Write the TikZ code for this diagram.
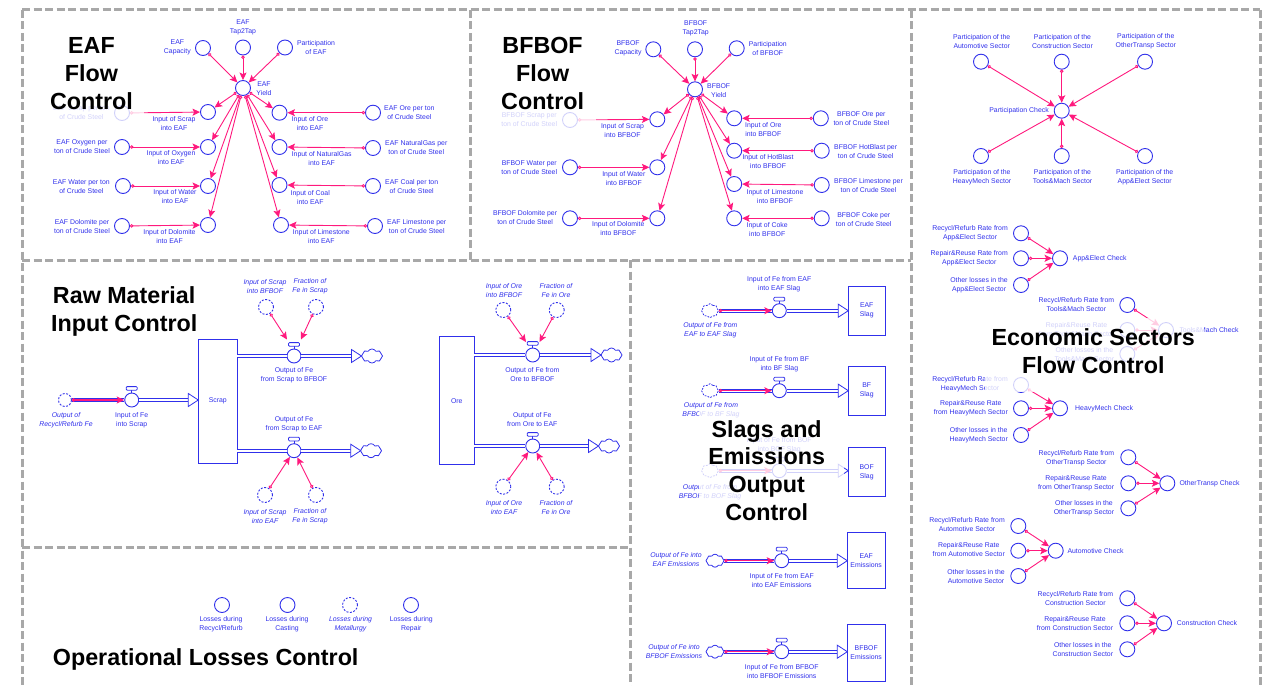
\documentclass[tikz,border=0pt]{standalone}
\usepackage{fontspec}
\setmainfont{Liberation Sans}
\usetikzlibrary{arrows.meta,shapes.symbols,shapes.geometric}
\definecolor{sdblue}{RGB}{48,48,235}
\definecolor{sdpink}{RGB}{255,25,125}
\definecolor{panelgray}{RGB}{168,168,168}
\newcommand{\sdsmall}{\fontsize{6.9}{9}\selectfont}
\newcommand{\sdtitle}{\fontsize{23.3}{27.7}\selectfont\bfseries}
\tikzset{
  aux/.style={circle, draw=sdblue, line width=0.9pt, minimum size=15pt, inner sep=0pt, fill=white},
  daux/.style={aux, dash pattern=on 2pt off 1.5pt},
  lbl/.style={text=sdblue, font=\sdsmall, align=center, inner sep=0pt},
  ilbl/.style={text=sdblue, font=\sdsmall\itshape, align=center, inner sep=0pt},
  info/.style={draw=sdpink, line width=0.9pt, {Circle[fill=white,length=3.4pt]}-{Stealth[length=7.5pt,width=7pt,inset=1.6pt]}},
  pipe/.style={draw=sdblue, double=white, double distance=2.4pt, line width=0.75pt},
  stockbox/.style={draw=sdblue, line width=0.9pt, fill=white, rectangle, inner sep=0pt, text=sdblue, font=\sdsmall, align=center},
  valve/.style={circle, draw=sdblue, line width=0.9pt, fill=white, minimum size=14pt, inner sep=0pt},
  sink/.style={cloud, cloud puffs=8, cloud puff arc=120, cloud ignores aspect, draw=sdblue, line width=0.8pt, fill=white, minimum width=21pt, minimum height=14pt, inner sep=0pt},
  gsink/.style={sink, dash pattern=on 1.8pt off 1.3pt, minimum width=17pt, minimum height=14pt},
  panel/.style={draw=panelgray, line width=3pt, dash pattern=on 8pt off 3.5pt},
  titletext/.style={font=\sdtitle, align=center, inner sep=0pt, text=black},
  haze/.style={fill=white, fill opacity=0.78},
  valvehandle/.pic={
    \draw[sdblue, line width=0.8pt] (0,-7) -- (0,-9.8);
    \draw[sdblue, line width=0.8pt, fill=white, rounded corners=1pt] (-5.5,-13.4) rectangle (5.5,-9.8);
  },
  flowhead/.pic={
    \draw[sdblue, line width=0.8pt, fill=white, line join=miter] (0,0) -- (-10,-6.5) -- (-10,6.5) -- cycle;
  },
}
\begin{document}
\begin{tikzpicture}[x=1pt,y=-1pt]
\useasboundingbox (0,0) rectangle (1273,685);

% ---------------- panels
\draw[panel] (22,10) -- (1260,10);
\draw[panel] (22,10) -- (22,690);
\draw[panel] (1260,10) -- (1260,690);
\draw[panel] (470,10) -- (470,260);
\draw[panel] (911,10) -- (911,690);
\draw[panel] (22,260) -- (911,260);
\draw[panel] (630,260) -- (630,690);
\draw[panel] (22,547) -- (630,547);

% ---------------- EAF flow control
\node[aux] (eafcap) at (203,48) {};
\node[lbl, anchor=east] (eafcapL) at (191,47.5) {EAF\\Capacity};
\node[aux] (eaftap) at (243,47.5) {};
\node[lbl] (eaftapL) at (243,27) {EAF\\Tap2Tap};
\node[aux] (eafpart) at (285,47.5) {};
\node[lbl] (eafpartL) at (316,47.5) {Participation\\of EAF};
\node[aux] (eafyield) at (243,88) {};
\node[lbl] (eafyieldL) at (264,89) {EAF\\Yield};

\node[aux] (eafinscrap) at (208,112) {};
\node[lbl] (eafinscrapL) at (174,123.5) {Input of Scrap\\into EAF};
\node[aux] (eafinoxy) at (208,147) {};
\node[lbl] (eafinoxyL) at (171,157.8) {Input of Oxygen\\into EAF};
\node[aux] (eafinwater) at (208,186) {};
\node[lbl] (eafinwaterL) at (175,197) {Input of Water\\into EAF};
\node[aux] (eafindolo) at (208,225) {};
\node[lbl] (eafindoloL) at (169.5,237) {Input of Dolomite\\into EAF};

\node[aux] (eafscrap) at (122,113) {};
\node[lbl, anchor=east] (eafscrapL) at (110,112.8) {EAF Scrap per ton\\of Crude Steel};
\node[aux] (eafoxy) at (122,147) {};
\node[lbl, anchor=east] (eafoxyL) at (110,146.7) {EAF Oxygen per\\ton of Crude Steel};
\node[aux] (eafwater) at (123,186) {};
\node[lbl, anchor=east] (eafwaterL) at (110,186.3) {EAF Water per ton\\of Crude Steel};
\node[aux] (eafdolo) at (122,226) {};
\node[lbl, anchor=east] (eafdoloL) at (110,226.3) {EAF Dolomite per\\ton of Crude Steel};

\node[aux] (eafinore) at (279.5,112.7) {};
\node[lbl] (eafinoreL) at (310,123.5) {Input of Ore\\into EAF};
\node[aux] (eafingas) at (279.5,147) {};
\node[lbl] (eafingasL) at (321.7,159) {Input of NaturalGas\\into EAF};
\node[aux] (eafincoal) at (279.5,185) {};
\node[lbl] (eafincoalL) at (310.3,197.2) {Input of Coal\\into EAF};
\node[aux] (eafinlime) at (281,225) {};
\node[lbl] (eafinlimeL) at (321.3,236.8) {Input of Limestone\\into EAF};

\node[aux] (eafore) at (373,112.7) {};
\node[lbl, anchor=west] (eaforeL) at (384,112.8) {EAF Ore per ton\\of Crude Steel};
\node[aux] (eafgas) at (373,148) {};
\node[lbl, anchor=west] (eafgasL) at (385,147.5) {EAF NaturalGas per\\ton of Crude Steel};
\node[aux] (eafcoal) at (373,186) {};
\node[lbl, anchor=west] (eafcoalL) at (385,186.2) {EAF Coal per ton\\of Crude Steel};
\node[aux] (eaflime) at (375,226) {};
\node[lbl, anchor=west] (eaflimeL) at (387,226.5) {EAF Limestone per\\ton of Crude Steel};

\draw[info] (eafcap) -- (eafyield);
\draw[info] (eaftap) -- (eafyield);
\draw[info] (eafpart) -- (eafyield);
\foreach \t in {eafinscrap,eafinoxy,eafinwater,eafindolo,eafinore,eafingas,eafincoal,eafinlime}
  \draw[info] (eafyield) -- (\t);
\draw[info] (eafscrap) -- (eafinscrap);
\draw[info] (eafoxy) -- (eafinoxy);
\draw[info] (eafwater) -- (eafinwater);
\draw[info] (eafdolo) -- (eafindolo);
\draw[info] (eafore) -- (eafinore);
\draw[info] (eafgas) -- (eafingas);
\draw[info] (eafcoal) -- (eafincoal);
\draw[info] (eaflime) -- (eafinlime);

% ---------------- BFBOF flow control
\node[aux] (bcap) at (653.3,49.3) {};
\node[lbl, anchor=east] (bcapL) at (641.7,48.3) {BFBOF\\Capacity};
\node[aux] (btap) at (695,49.3) {};
\node[lbl] (btapL) at (695.7,28.7) {BFBOF\\Tap2Tap};
\node[aux] (bpart) at (736.7,48.3) {};
\node[lbl] (bpartL) at (767.8,48.7) {Participation\\of BFBOF};
\node[aux] (byield) at (695,89.3) {};
\node[lbl] (byieldL) at (718.7,90.5) {BFBOF\\Yield};

\node[aux] (binscrap) at (657.3,119.3) {};
\node[lbl] (binscrapL) at (622.5,130.7) {Input of Scrap\\into BFBOF};
\node[aux] (binwater) at (657.3,167.3) {};
\node[lbl] (binwaterL) at (623.8,178.7) {Input of Water\\into BFBOF};
\node[aux] (bindolo) at (657.3,218.3) {};
\node[lbl] (bindoloL) at (618.3,228.8) {Input of Dolomite\\into BFBOF};

\node[aux] (bscrap) at (570,120) {};
\node[lbl, anchor=east] (bscrapL) at (557.3,119.7) {BFBOF Scrap per\\ton of Crude Steel};
\node[aux] (bwater) at (570,167.3) {};
\node[lbl, anchor=east] (bwaterL) at (557.3,168) {BFBOF Water per\\ton of Crude Steel};
\node[aux] (bdolo) at (570,218.3) {};
\node[lbl, anchor=east] (bdoloL) at (557.3,217.8) {BFBOF Dolomite per\\ton of Crude Steel};

\node[aux] (binore) at (734.2,118.3) {};
\node[lbl] (binoreL) at (763.3,129.7) {Input of Ore\\into BFBOF};
\node[aux] (binhot) at (734.2,150.7) {};
\node[lbl] (binhotL) at (768,161.2) {Input of HotBlast\\into BFBOF};
\node[aux] (binlime) at (734.2,184) {};
\node[lbl] (binlimeL) at (775,196.2) {Input of Limestone\\into BFBOF};
\node[aux] (bincoke) at (734.2,218.3) {};
\node[lbl] (bincokeL) at (767.2,229.8) {Input of Coke\\into BFBOF};

\node[aux] (bore) at (820.8,118.3) {};
\node[lbl, anchor=west] (boreL) at (833.3,118.8) {BFBOF Ore per\\ton of Crude Steel};
\node[aux] (bhot) at (821.7,150.7) {};
\node[lbl, anchor=west] (bhotL) at (834,151.2) {BFBOF HotBlast per\\ton of Crude Steel};
\node[aux] (blime) at (821.7,185) {};
\node[lbl, anchor=west] (blimeL) at (834,185.3) {BFBOF Limestone per\\ton of Crude Steel};
\node[aux] (bcoke) at (821.7,218.3) {};
\node[lbl, anchor=west] (bcokeL) at (835.7,219.5) {BFBOF Coke per\\ton of Crude Steel};

\draw[info] (bcap) -- (byield);
\draw[info] (btap) -- (byield);
\draw[info] (bpart) -- (byield);
\foreach \t in {binscrap,binwater,bindolo,binore,binhot,binlime,bincoke}
  \draw[info] (byield) -- (\t);
\draw[info] (bscrap) -- (binscrap);
\draw[info] (bwater) -- (binwater);
\draw[info] (bdolo) -- (bindolo);
\draw[info] (bore) -- (binore);
\draw[info] (bhot) -- (binhot);
\draw[info] (blime) -- (binlime);
\draw[info] (bcoke) -- (bincoke);

% ---------------- Economic sectors
\node[aux] (pauto) at (981,61.7) {};
\node[lbl] (pautoL) at (981.7,41.2) {Participation of the\\Automotive Sector};
\node[aux] (pcons) at (1061.7,61.7) {};
\node[lbl] (pconsL) at (1062.5,41.2) {Participation of the\\Construction Sector};
\node[aux] (potr) at (1145,61.7) {};
\node[lbl] (potrL) at (1145.8,41.2) {Participation of the\\OtherTransp Sector};
\node[aux] (pheavy) at (981,156) {};
\node[lbl] (pheavyL) at (982,176.8) {Participation of the\\HeavyMech Sector};
\node[aux] (ptools) at (1061.7,156) {};
\node[lbl] (ptoolsL) at (1062.5,176.8) {Participation of the\\Tools\&Mach Sector};
\node[aux] (papp) at (1145,156) {};
\node[lbl] (pappL) at (1144.7,176.8) {Participation of the\\App\&Elect Sector};
\node[aux] (pcheck) at (1061.7,110.7) {};
\node[lbl, anchor=east] (pcheckL) at (1049,110.7) {Participation Check};
\foreach \s in {pauto,pcons,potr,pheavy,ptools,papp}
  \draw[info] (\s) -- (pcheck);

% App&Elect
\node[aux] (aer) at (1021,233.3) {};
\node[lbl, anchor=east] (aerL) at (1008,232.8) {Recycl/Refurb Rate from\\App\&Elect Sector};
\node[aux] (aerr) at (1021,258.3) {};
\node[lbl, anchor=east] (aerrL) at (1008,258) {Repair\&Reuse Rate from\\App\&Elect Sector};
\node[aux] (aeo) at (1021,285) {};
\node[lbl, anchor=east] (aeoL) at (1008,285) {Other losses in the\\App\&Elect Sector};
\node[aux] (aec) at (1060,258.3) {};
\node[lbl, anchor=west] (aecL) at (1072.7,258.3) {App\&Elect Check};
\draw[info] (aer) -- (aec);
\draw[info] (aerr) -- (aec);
\draw[info] (aeo) -- (aec);

% Tools&Mach
\node[aux] (tmr) at (1127.3,305) {};
\node[lbl, anchor=east] (tmrL) at (1114.3,304.5) {Recycl/Refurb Rate from\\Tools\&Mach Sector};
\node[aux] (tmrr) at (1127.3,330) {};
\node[lbl, anchor=east] (tmrrL) at (1114.3,329.2) {Repair\&Reuse Rate\\from Tools\&Mach Sector};
\node[aux] (tmo) at (1127.3,354) {};
\node[lbl, anchor=east] (tmoL) at (1114.3,355) {Other losses in the\\Tools\&Mach Sector};
\node[aux] (tmc) at (1166,330) {};
\node[lbl, anchor=west] (tmcL) at (1179.3,330) {Tools\&Mach Check};
\draw[info] (tmr) -- (tmc);
\draw[info] (tmrr) -- (tmc);
\draw[info] (tmo) -- (tmc);

% HeavyMech
\node[aux] (hmr) at (1021,385) {};
\node[lbl, anchor=east] (hmrL) at (1008,383.8) {Recycl/Refurb Rate from\\HeavyMech Sector};
\node[aux] (hmrr) at (1021,408.3) {};
\node[lbl, anchor=east] (hmrrL) at (1008,408.7) {Repair\&Reuse Rate\\from HeavyMech Sector};
\node[aux] (hmo) at (1021,435) {};
\node[lbl, anchor=east] (hmoL) at (1008,435.5) {Other losses in the\\HeavyMech Sector};
\node[aux] (hmc) at (1060,408.3) {};
\node[lbl, anchor=west] (hmcL) at (1075,408.3) {HeavyMech Check};
\draw[info] (hmr) -- (hmc);
\draw[info] (hmrr) -- (hmc);
\draw[info] (hmo) -- (hmc);

% OtherTransp
\node[aux] (otr) at (1128.3,457.3) {};
\node[lbl, anchor=east] (otrL) at (1114.3,457.8) {Recycl/Refurb Rate from\\OtherTransp Sector};
\node[aux] (otrr) at (1128.3,483.3) {};
\node[lbl, anchor=east] (otrrL) at (1114.3,483) {Repair\&Reuse Rate\\from OtherTransp Sector};
\node[aux] (oto) at (1128.3,508.3) {};
\node[lbl, anchor=east] (otoL) at (1114.3,507.8) {Other losses in the\\OtherTransp Sector};
\node[aux] (otc) at (1167.3,483.3) {};
\node[lbl, anchor=west] (otcL) at (1179.3,483.3) {OtherTransp Check};
\draw[info] (otr) -- (otc);
\draw[info] (otrr) -- (otc);
\draw[info] (oto) -- (otc);

% Automotive
\node[aux] (aur) at (1018.3,526) {};
\node[lbl, anchor=east] (aurL) at (1005,525) {Recycl/Refurb Rate from\\Automotive Sector};
\node[aux] (aurr) at (1018.3,550.7) {};
\node[lbl, anchor=east] (aurrL) at (1005,550) {Repair\&Reuse Rate\\from Automotive Sector};
\node[aux] (auo) at (1018.3,576) {};
\node[lbl, anchor=east] (auoL) at (1005,576.2) {Other losses in the\\Automotive Sector};
\node[aux] (auc) at (1055.7,550.7) {};
\node[lbl, anchor=west] (aucL) at (1067.3,550.7) {Automotive Check};
\draw[info] (aur) -- (auc);
\draw[info] (aurr) -- (auc);
\draw[info] (auo) -- (auc);

% Construction
\node[aux] (cor) at (1127.3,598.3) {};
\node[lbl, anchor=east] (corL) at (1113.3,598.3) {Recycl/Refurb Rate from\\Construction Sector};
\node[aux] (corr) at (1127.3,623.3) {};
\node[lbl, anchor=east] (corrL) at (1113.3,623.3) {Repair\&Reuse Rate\\from Construction Sector};
\node[aux] (coo) at (1127.3,649.3) {};
\node[lbl, anchor=east] (cooL) at (1113.3,649.5) {Other losses in the\\Construction Sector};
\node[aux] (coc) at (1164,623.3) {};
\node[lbl, anchor=west] (cocL) at (1176.7,623.3) {Construction Check};
\draw[info] (cor) -- (coc);
\draw[info] (corr) -- (coc);
\draw[info] (coo) -- (coc);

% ---------------- Raw material input control
\node[stockbox, minimum width=39pt, minimum height=124pt] (scrap) at (217.8,401.2) {Scrap};
\node[stockbox, minimum width=35pt, minimum height=128pt] (ore) at (456.8,400.9) {Ore};

\node[daux, minimum size=13pt] (orrf) at (65,400) {};
\node[ilbl] (orrfL) at (66,420.5) {Output of\\Recycl/Refurb Fe};
\node[valve] (vinscrap) at (131.7,400) {};
\pic at (vinscrap) {valvehandle};
\node[lbl] (vinscrapL) at (131.7,420.5) {Input of Fe\\into Scrap};
\coordinate (scrapin) at (198.3,400);
\draw[pipe] (orrf) -- (vinscrap);
\draw[info, line width=1.1pt] (orrf) -- (vinscrap);
\draw[pipe] (vinscrap.east) -- ([xshift=-10pt]scrapin);
\pic at (scrapin) {flowhead};

% scrap -> BFBOF
\node[valve] (vsb) at (294,356) {};
\pic at (vsb) {valvehandle};
\node[lbl] (vsbL) at (294,375.5) {Output of Fe\\from Scrap to BFBOF};
\coordinate (sbout) at (237.3,356);
\coordinate (sbhead) at (361.5,356);
\node[sink] (sbsink) at (372,356) {};
\draw[pipe] (sbout) -- (vsb.west);
\draw[pipe] (vsb.east) -- ([xshift=-10pt]sbhead);
\pic at (sbhead) {flowhead};
\node[daux] (isb) at (266,307) {};
\node[ilbl] (isbL) at (265,286.2) {Input of Scrap\\into BFBOF};
\node[daux] (fsb) at (316,307) {};
\node[ilbl] (fsbL) at (310,286.2) {Fraction of\\Fe in Scrap};
\coordinate (vsbh1) at (287,339.5);
\coordinate (vsbh2) at (301,339.5);
\draw[info] (isb) -- (vsbh1);
\draw[info] (fsb) -- (vsbh2);

% scrap -> EAF
\node[valve] (vse) at (294,450.7) {};
\pic at (vse) {valvehandle};
\node[lbl] (vseL) at (294,423.8) {Output of Fe\\from Scrap to EAF};
\coordinate (seout) at (237.3,450.7);
\coordinate (sehead) at (360.7,450.7);
\node[sink] (sesink) at (371,450.7) {};
\draw[pipe] (seout) -- (vse.west);
\draw[pipe] (vse.east) -- ([xshift=-10pt]sehead);
\pic at (sehead) {flowhead};
\node[daux] (ise) at (265,495) {};
\node[ilbl] (iseL) at (265,516.2) {Input of Scrap\\into EAF};
\node[daux] (fse) at (316,495) {};
\node[ilbl] (fseL) at (310,516.2) {Fraction of\\Fe in Scrap};
\draw[info] (ise) -- (vse);
\draw[info] (fse) -- (vse);

% ore -> BFBOF
\node[valve] (vob) at (532.7,355) {};
\pic at (vob) {valvehandle};
\node[lbl] (vobL) at (532.3,374.5) {Output of Fe from\\Ore to BFBOF};
\coordinate (obout) at (474.3,355);
\coordinate (obhead) at (601,355);
\node[sink] (obsink) at (611.5,355) {};
\draw[pipe] (obout) -- (vob.west);
\draw[pipe] (vob.east) -- ([xshift=-10pt]obhead);
\pic at (obhead) {flowhead};
\node[daux] (iob) at (503.3,310) {};
\node[ilbl] (iobL) at (504,290.2) {Input of Ore\\into BFBOF};
\node[daux] (fob) at (556.7,310) {};
\node[ilbl] (fobL) at (556,290.2) {Fraction of\\Fe in Ore};
\coordinate (vobh1) at (526,342);
\coordinate (vobh2) at (539.5,342);
\draw[info] (iob) -- (vobh1);
\draw[info] (fob) -- (vobh2);

% ore -> EAF
\node[valve] (voe) at (532.7,446) {};
\pic at (voe) {valvehandle};
\node[lbl] (voeL) at (532.3,419.5) {Output of Fe\\from Ore to EAF};
\coordinate (oeout) at (474.3,446);
\coordinate (oehead) at (598.5,446);
\node[sink] (oesink) at (609,446) {};
\draw[pipe] (oeout) -- (voe.west);
\draw[pipe] (voe.east) -- ([xshift=-10pt]oehead);
\pic at (oehead) {flowhead};
\node[daux] (ioe) at (503.3,486.7) {};
\node[ilbl] (ioeL) at (504,507.8) {Input of Ore\\into EAF};
\node[daux] (foe) at (556.7,486.7) {};
\node[ilbl] (foeL) at (556,507.8) {Fraction of\\Fe in Ore};
\draw[info] (ioe) -- (voe);
\draw[info] (foe) -- (voe);

% ---------------- Slags and emissions
\node[stockbox, minimum width=36.7pt, minimum height=49pt] (eafslag) at (866.7,310.5) {EAF\\Slag};
\node[stockbox, minimum width=36.7pt, minimum height=48.3pt] (bfslag) at (866.7,390.8) {BF\\Slag};
\node[stockbox, minimum width=36.7pt, minimum height=49pt] (bofslag) at (866.7,472.2) {BOF\\Slag};
\node[stockbox, minimum width=37.7pt, minimum height=56pt] (eafem) at (866.2,560.3) {EAF\\Emissions};
\node[stockbox, minimum width=37.7pt, minimum height=57pt] (bfem) at (866.2,652.5) {BFBOF\\Emissions};

% EAF slag
\node[gsink] (geafs) at (710,310.7) {};
\node[ilbl] (geafsL) at (710.3,330.3) {Output of Fe from\\EAF to EAF Slag};
\node[valve] (veafs) at (779.3,310.7) {};
\pic at (veafs) {valvehandle};
\node[lbl] (veafsL) at (779.2,283.8) {Input of Fe from EAF\\into EAF Slag};
\coordinate (heafs) at (848.3,310.7);
\draw[pipe] (geafs) -- (veafs);
\draw[info, line width=1.1pt] (geafs) -- (veafs);
\draw[pipe] (veafs.east) -- ([xshift=-10pt]heafs);
\pic at (heafs) {flowhead};

% BF slag
\node[gsink] (gbfs) at (710,390.7) {};
\node[ilbl] (gbfsL) at (711,410.5) {Output of Fe from\\BFBOF to BF Slag};
\node[valve] (vbfs) at (779.3,390.7) {};
\pic at (vbfs) {valvehandle};
\node[lbl] (vbfsL) at (779.3,364.5) {Input of Fe from BF\\into BF Slag};
\coordinate (hbfs) at (848.3,390.7);
\draw[pipe] (gbfs) -- (vbfs);
\draw[info, line width=1.1pt] (gbfs) -- (vbfs);
\draw[pipe] (vbfs.east) -- ([xshift=-10pt]hbfs);
\pic at (hbfs) {flowhead};

% BOF slag
\node[gsink] (gbofs) at (710,470.7) {};
\node[ilbl] (gbofsL) at (710,492.2) {Output of Fe from\\BFBOF to BOF Slag};
\node[valve] (vbofs) at (779.3,470.7) {};
\pic at (vbofs) {valvehandle};
\node[lbl] (vbofsL) at (779.3,445.2) {Input of Fe from BOF\\into BOF Slag};
\coordinate (hbofs) at (848.3,470.7);
\draw[pipe] (gbofs) -- (vbofs);
\draw[info, line width=1.1pt] (gbofs) -- (vbofs);
\draw[pipe] (vbofs.east) -- ([xshift=-10pt]hbofs);
\pic at (hbofs) {flowhead};

% EAF emissions
\node[sink, minimum width=18pt, minimum height=13pt] (ceafe) at (715,560.7) {};
\node[ilbl] (ceafeL) at (676,559.7) {Output of Fe into\\EAF Emissions};
\node[valve] (veafe) at (781.7,560.7) {};
\pic at (veafe) {valvehandle};
\node[lbl] (veafeL) at (781.7,580.3) {Input of Fe from EAF\\into EAF Emissions};
\coordinate (heafe) at (847.3,560.7);
\draw[pipe] (ceafe) -- (veafe);
\draw[info, line width=1.1pt] (ceafe) -- (veafe);
\draw[pipe] (veafe.east) -- ([xshift=-10pt]heafe);
\pic at (heafe) {flowhead};

% BFBOF emissions
\node[sink, minimum width=18pt, minimum height=13pt] (cbfe) at (715,651.7) {};
\node[ilbl] (cbfeL) at (674,651.2) {Output of Fe into\\BFBOF Emissions};
\node[valve] (vbfe) at (781.7,651.7) {};
\pic at (vbfe) {valvehandle};
\node[lbl] (vbfeL) at (781.7,671.2) {Input of Fe from BFBOF\\into BFBOF Emissions};
\coordinate (hbfe) at (847.3,651.7);
\draw[pipe] (cbfe) -- (vbfe);
\draw[info, line width=1.1pt] (cbfe) -- (vbfe);
\draw[pipe] (vbfe.east) -- ([xshift=-10pt]hbfe);
\pic at (hbfe) {flowhead};

% ---------------- Operational losses
\node[aux] (lrr) at (222,605) {};
\node[lbl] (lrrL) at (221,624.5) {Losses during\\Recycl/Refurb};
\node[aux] (lcast) at (287.5,605) {};
\node[lbl] (lcastL) at (287,624.5) {Losses during\\Casting};
\node[daux] (lmet) at (350,605) {};
\node[ilbl] (lmetL) at (350.5,624.5) {Losses during\\Metallurgy};
\node[aux] (lrep) at (411,605) {};
\node[lbl] (lrepL) at (411.3,624.5) {Losses during\\Repair};

% ---------------- titles
\fill[haze] (39,26) rectangle (144,123);
\node[titletext] (teaf) at (91.5,73.5) {EAF\\Flow\\Control};
\fill[haze] (490,26) rectangle (596,129);
\node[titletext] (tbfbof) at (542.6,73.5) {BFBOF\\Flow\\Control};
\fill[haze] (45,276) rectangle (206,338);
\node[titletext] (traw) at (124.2,311.2) {Raw Material\\Input Control};
\fill[haze] (985,318) rectangle (1204,392);
\node[titletext] (teco) at (1093.3,351.3) {Economic Sectors\\Flow Control};
\fill[haze] (699,409) rectangle (844,524);
\node[titletext] (tslag) at (766.7,470.4) {Slags and\\Emissions\\Output\\Control};
\node[titletext] (tops) at (205.7,659.4) {Operational Losses Control};
\end{tikzpicture}
\end{document}
